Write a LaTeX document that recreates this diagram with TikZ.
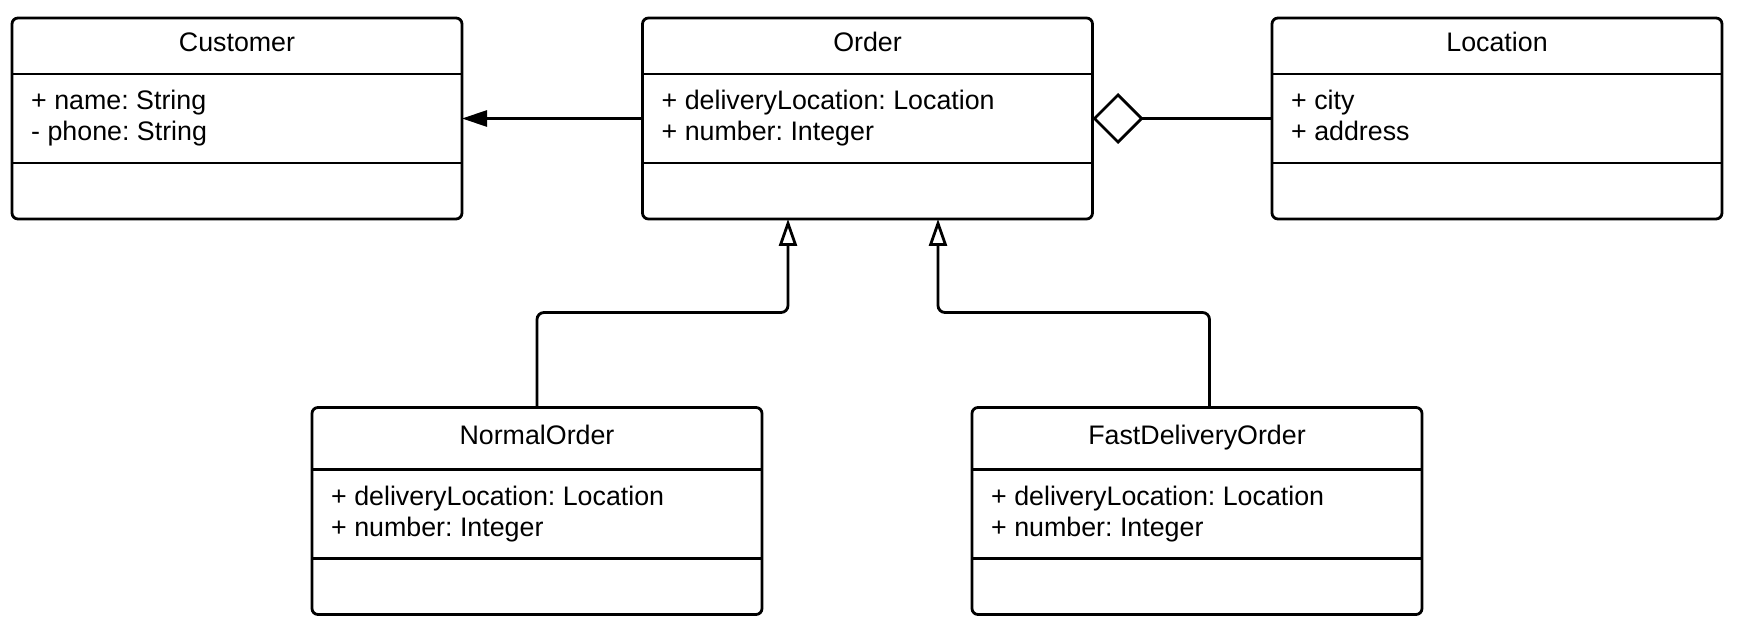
\documentclass[tikz,border=0pt]{standalone}
\usepackage{fontspec}
\setmainfont{Liberation Sans}
\usepackage{tikz}
\usetikzlibrary{calc,arrows.meta}
\tikzset{
	classbox/.style={draw, line width=2.8pt, rounded corners=6pt, minimum width=450pt, inner sep=0pt, outer sep=0pt},
	divider/.style={line width=2.8pt},
	classtitle/.style={anchor=base, inner sep=0pt, font=\fontsize{26.8}{31}\selectfont},
	attrtext/.style={anchor=base west, align=left, inner sep=0pt, font=\fontsize{26.8}{31.5}\selectfont},
	assoc/.style={line width=2.8pt, -{Triangle[length=25pt, width=16pt]}},
	aggr/.style={line width=2.8pt, -{Diamond[open, fill=white, length=51pt, width=51pt]}},
	gen/.style={line width=2.8pt, rounded corners=7pt, -{Triangle[open, fill=white, length=27pt, width=18pt]}}
}

\begin{document}
\frenchspacing
\begin{tikzpicture}[x=1pt, y=-1pt]
		%%%%% START %%%%%
		\useasboundingbox (0,0) rectangle (1740,636);
		
		\node[classbox, minimum height=201pt] (customer) at (237, 118.5) {};
		\node[classbox, minimum height=201pt] (order) at (867.5, 118.5) {};
		\node[classbox, minimum height=201pt] (location) at (1497, 118.5) {};
		\node[classbox, minimum height=207pt] (normal) at (537, 511) {};
		\node[classbox, minimum height=207pt] (fast) at (1197, 511) {};
		
		% compartments
		\foreach \c/\h in {customer/56, order/56, location/56, normal/62, fast/62}{
			\draw[divider] ($(\c.north west)+(0,\h)$) -- ($(\c.north east)+(0,\h)$);
			\draw[divider] ($(\c.north west)+(0,\h+89)$) -- ($(\c.north east)+(0,\h+89)$);
		}
		
		% names
		\foreach \c/\t/\b in {customer/Customer/34, order/Order/34, location/Location/34, normal/NormalOrder/37, fast/FastDeliveryOrder/37}
			\node[classtitle] (\c-title) at ($(\c.north)+(0,\b)$) {\t};
		
		% attributes (base = last line)
		\node[attrtext] (customer-attr) at ($(customer.north west)+(19,123)$) {+ name: String\\- phone: String};
		\node[attrtext] (order-attr) at ($(order.north west)+(19,123)$) {+ deliveryLocation: Location\\+ number: Integer};
		\node[attrtext] (location-attr) at ($(location.north west)+(19,123)$) {+ city\\+ address};
		\node[attrtext] (normal-attr) at ($(normal.north west)+(19,129)$) {+ deliveryLocation: Location\\+ number: Integer};
		\node[attrtext] (fast-attr) at ($(fast.north west)+(19,129)$) {+ deliveryLocation: Location\\+ number: Integer};
		
		% relations
		\draw[assoc] (order.west) -- (customer.east);
		\draw[aggr] (location.west) -- (order.east);
		
		\coordinate (order-in1) at ($(order.south)+(-79.5,0)$);
		\coordinate (order-in2) at ($(order.south)+(70.5,0)$);
		\coordinate (fast-top) at ($(fast.north)+(12.5,0)$);
		\draw[gen] (normal.north) -- ++(0,-95) -| (order-in1);
		\draw[gen] (fast-top) -- ++(0,-95) -| (order-in2);
		
		%%%%% END %%%%%
	\end{tikzpicture}
\end{document}
